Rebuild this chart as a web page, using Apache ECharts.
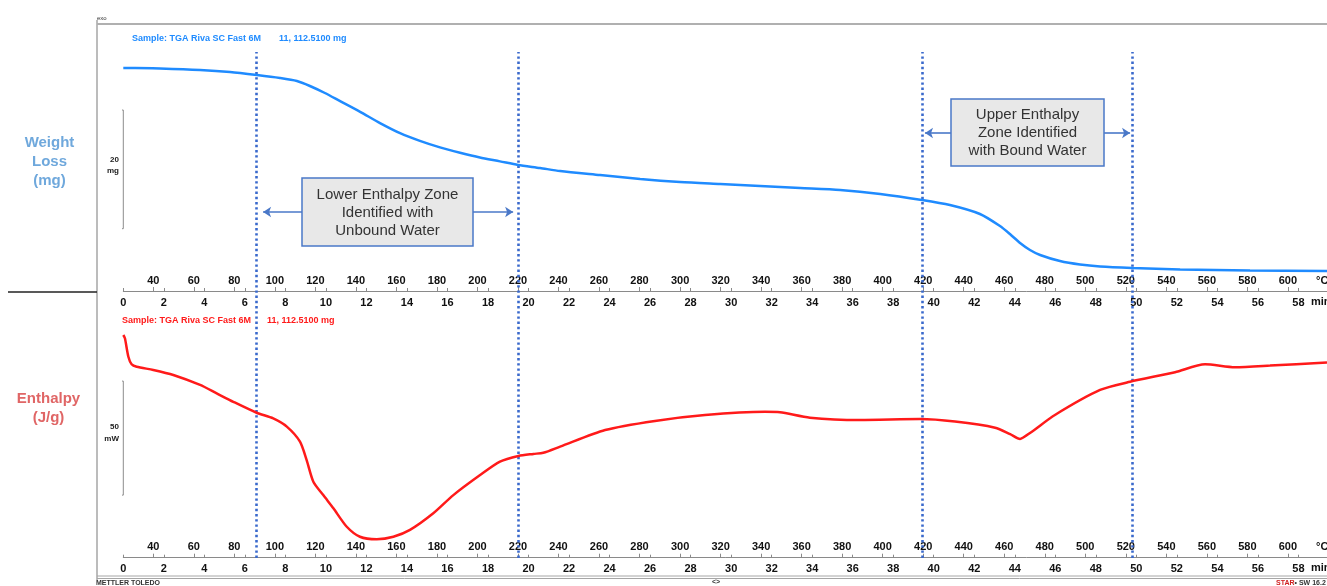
<!DOCTYPE html>
<html><head><meta charset="utf-8">
<script src="https://cdn.jsdelivr.net/npm/echarts@6/dist/echarts.min.js"></script>
<style>html,body{margin:0;padding:0;background:#fff}#c{width:1327px;height:586px}</style>
</head><body><div id="c"></div>
<script>
// ---- data ----
const minuteTicks = [0,2,4,6,8,10,12,14,16,18,20,22,24,26,28,30,32,34,36,38,40,42,44,46,48,50,52,54,56,58];
const tempTicks = [40,60,80,100,120,140,160,180,200,220,240,260,280,300,320,340,360,380,400,420,440,460,480,500,520,540,560,580,600];
// TGA (weight, mg) vs time (min)
const tgaTime = [0,0.58,1.81,3.79,5.27,6.60,7.73,8.57,9.21,9.95,10.70,11.69,12.67,13.66,14.64,15.63,16.62,17.60,18.59,19.48,20.57,21.56,23.53,25.51,27.48,29.46,31.43,33.41,35.38,37.36,39.42,40.80,42.28,43.27,43.76,44.26,44.75,45.25,46.23,47.22,48.21,49.79,52.16,55.61,59.41];
const tgaMass = [112.58,112.58,112.50,112.25,111.91,111.40,110.90,110.39,109.55,108.37,107.00,105.20,103.30,101.60,100.30,99.20,98.30,97.50,96.85,96.24,95.73,95.22,94.55,93.88,93.37,93.03,92.70,92.36,92.02,91.35,90.34,89.49,87.98,85.95,84.60,83.09,81.91,81.07,80.05,79.46,79.13,78.88,78.62,78.45,78.37];
// DSC (heat flow, mW, arbitrary offset) vs time (min)
const dscTime = [0,0.08,0.25,0.41,0.66,1.48,2.47,3.79,4.61,5.43,6.58,7.40,8.07,8.72,9.05,9.38,9.87,10.37,11.03,11.68,12.51,13.33,14.15,15.30,16.29,17.61,18.59,19.50,20.24,20.73,21.56,23.78,26.24,28.71,31.67,32.41,33.89,36.36,39.32,41.05,43.03,43.77,44.26,44.75,45.98,48.21,49.69,51.91,53.39,54.87,56.60,59.41];
const dscFlow = [97.85,96.4,88.3,85.0,83.9,82.5,80.3,75.9,72.2,68.5,63.7,61.2,57.6,51.0,42.9,33.4,27.5,21.7,13.6,9.2,8.1,9.2,12.2,19.5,27.5,36.3,42.2,44.7,45.6,46.1,48.8,56.1,60.1,62.7,64.1,63.9,61.5,60.5,60.9,59.8,57.1,54.3,52.2,54.8,62.7,73.7,77.3,81.5,85.0,83.7,84.4,85.8];
// zone boundaries (min)
const zoneBoundaries = [6.58, 19.47, 39.44, 49.80];
// arrows [fromTime, toTime, mass level]
const zoneArrows = [[8.82,6.90,88.31],[17.26,19.24,88.31],[40.85,39.57,101.63],[48.41,49.69,101.63]];
// scale bars
const massBar = [105.5, 85.5];   // 20 mg
const flowBar = [77.6, 27.5];    // 50 mW

const tMax = 59.41, tempMin = 25.2, tempMax = 619.3;
const FONT = '"Liberation Sans", Arial, sans-serif';
const axisLblStyle = {fontFamily: FONT, fontWeight: 'bold', fontSize: 11, color: '#111'};

function minuteAxis(grid) {
  return {
    gridIndex: grid, type: 'value', min: 0, max: tMax, position: 'bottom',
    axisLine: {show: true, onZero: false, lineStyle: {color: '#8a8a8a', width: 1}},
    axisTick: {show: true, inside: true, length: 3, customValues: minuteTicks, lineStyle: {color: '#8a8a8a'}},
    axisLabel: Object.assign({customValues: minuteTicks, margin: 6}, axisLblStyle),
    splitLine: {show: false}
  };
}
function tempAxis(grid) {
  return {
    gridIndex: grid, type: 'value', min: tempMin, max: tempMax, position: 'bottom',
    axisLine: {show: false, onZero: false},
    axisTick: {show: true, inside: true, length: 4, customValues: tempTicks, lineStyle: {color: '#8a8a8a'}},
    axisLabel: Object.assign({customValues: tempTicks, inside: true, margin: 5}, axisLblStyle),
    splitLine: {show: false}
  };
}

const chart = echarts.init(document.getElementById('c'), null, {renderer: 'canvas'});
const blue = '#1f8bff', red = '#ff1a1a', zoneBlue = '#3a69cc', boxBlue = '#4a78c8';

const option = {
  animation: false,
  backgroundColor: '#fff',
  grid: [
    {left: 123.3, right: 0, top: 24, height: 267, outerBoundsMode: 'none'},
    {left: 123.3, right: 0, top: 321, height: 236.7, outerBoundsMode: 'none'},
    {left: 123.3, right: 0, top: 52, height: 506, outerBoundsMode: 'none'}
  ],
  xAxis: [
    minuteAxis(0), tempAxis(0), minuteAxis(1), tempAxis(1),
    {gridIndex: 2, type: 'value', min: 0, max: tMax, show: false}
  ],
  yAxis: [
    {gridIndex: 0, type: 'value', min: 75, max: 120, show: false},
    {gridIndex: 1, type: 'value', min: 0, max: 104, show: false},
    {gridIndex: 2, type: 'value', min: 0, max: 1, show: false}
  ],
  series: [
    {type: 'line', xAxisIndex: 0, yAxisIndex: 0, data: tgaTime.map((t, i) => [t, tgaMass[i]]),
     showSymbol: false, smooth: 0.25, lineStyle: {color: blue, width: 2.5}, z: 5, silent: true},
    {type: 'line', xAxisIndex: 0, yAxisIndex: 0, clip: false, showSymbol: false, silent: true,
     data: [[-0.2, massBar[0]], [0, massBar[0]], [0, massBar[1]], [-0.2, massBar[1]]],
     lineStyle: {color: '#8c8c8c', width: 1}},
    {type: 'line', xAxisIndex: 0, yAxisIndex: 0, data: [], silent: true,
     markLine: {silent: true, symbol: ['none', 'arrow'], symbolSize: 8, label: {show: false},
       lineStyle: {color: boxBlue, width: 1.6, type: 'solid'},
       data: zoneArrows.map(a => [{coord: [a[0], a[2]]}, {coord: [a[1], a[2]]}])}},
    {type: 'line', xAxisIndex: 2, yAxisIndex: 1, data: dscTime.map((t, i) => [t, dscFlow[i]]),
     showSymbol: false, smooth: 0.25, lineStyle: {color: red, width: 2.5}, z: 5, silent: true},
    {type: 'line', xAxisIndex: 2, yAxisIndex: 1, clip: false, showSymbol: false, silent: true,
     data: [[-0.2, flowBar[0]], [0, flowBar[0]], [0, flowBar[1]], [-0.2, flowBar[1]]],
     lineStyle: {color: '#8c8c8c', width: 1}},
    {type: 'line', xAxisIndex: 4, yAxisIndex: 2, data: [], silent: true,
     markLine: {silent: true, symbol: ['none', 'none'], label: {show: false},
       lineStyle: {color: zoneBlue, width: 2.6, type: [2.4, 2.8]},
       data: zoneBoundaries.map(v => ({xAxis: v}))}, z: 6}
  ],
  graphic: [
    // frame
    {type: 'line', shape: {x1: 97, y1: 20, x2: 97, y2: 580}, style: {stroke: '#a6a6a6', lineWidth: 1.5}, silent: true},
    {type: 'line', shape: {x1: 97, y1: 24, x2: 1327, y2: 24}, style: {stroke: '#b0b0b0', lineWidth: 2}, silent: true},
    {type: 'line', shape: {x1: 97, y1: 576, x2: 1327, y2: 576}, style: {stroke: '#a6a6a6', lineWidth: 1}, silent: true},
    {type: 'line', shape: {x1: 97, y1: 578.5, x2: 1327, y2: 578.5}, style: {stroke: '#a6a6a6', lineWidth: 1}, silent: true},
    {type: 'line', shape: {x1: 8, y1: 292, x2: 97, y2: 292}, style: {stroke: '#222', lineWidth: 1.6}, silent: true},
    {type: 'text', x: 97, y: 18, style: {text: 'exo', font: '6px ' + FONT, fill: '#333', verticalAlign: 'middle'}},
    // left titles
    {type: 'text', x: 49.5, y: 162, style: {text: 'Weight\nLoss\n(mg)', font: 'bold 15px ' + FONT, fill: '#6fa8dc', align: 'center', verticalAlign: 'middle', lineHeight: 19}},
    {type: 'text', x: 48.5, y: 408.5, style: {text: 'Enthalpy\n(J/g)', font: 'bold 15px ' + FONT, fill: '#e06666', align: 'center', verticalAlign: 'middle', lineHeight: 19}},
    // scale bar labels
    {type: 'text', x: 119, y: 160, style: {text: '20', font: 'bold 8px ' + FONT, fill: '#222', align: 'right', verticalAlign: 'middle'}},
    {type: 'text', x: 119, y: 171, style: {text: 'mg', font: 'bold 8px ' + FONT, fill: '#222', align: 'right', verticalAlign: 'middle'}},
    {type: 'text', x: 119, y: 427, style: {text: '50', font: 'bold 8px ' + FONT, fill: '#222', align: 'right', verticalAlign: 'middle'}},
    {type: 'text', x: 119, y: 439, style: {text: 'mW', font: 'bold 8px ' + FONT, fill: '#222', align: 'right', verticalAlign: 'middle'}},
    // sample labels
    {type: 'text', x: 132, y: 39, style: {text: 'Sample: TGA Riva SC Fast 6M', font: 'bold 9px ' + FONT, fill: blue, verticalAlign: 'middle'}},
    {type: 'text', x: 279, y: 39, style: {text: '11, 112.5100 mg', font: 'bold 9px ' + FONT, fill: blue, verticalAlign: 'middle'}},
    {type: 'text', x: 122, y: 321, style: {text: 'Sample: TGA Riva SC Fast 6M', font: 'bold 9px ' + FONT, fill: red, verticalAlign: 'middle'}},
    {type: 'text', x: 267, y: 321, style: {text: '11, 112.5100 mg', font: 'bold 9px ' + FONT, fill: red, verticalAlign: 'middle'}},
    // axis units
    {type: 'text', x: 1316, y: 281, style: {text: '°C', font: 'bold 11px ' + FONT, fill: '#111', verticalAlign: 'middle'}},
    {type: 'text', x: 1311, y: 302, style: {text: 'min', font: 'bold 11px ' + FONT, fill: '#111', verticalAlign: 'middle'}},
    {type: 'text', x: 1316, y: 547, style: {text: '°C', font: 'bold 11px ' + FONT, fill: '#111', verticalAlign: 'middle'}},
    {type: 'text', x: 1311, y: 568, style: {text: 'min', font: 'bold 11px ' + FONT, fill: '#111', verticalAlign: 'middle'}},
    // annotation boxes
    {type: 'rect', shape: {x: 302, y: 178, width: 171, height: 68}, style: {fill: '#e8e8e8', stroke: boxBlue, lineWidth: 1.5}, z: 10},
    {type: 'text', x: 387.5, y: 213, z: 11, style: {text: 'Lower Enthalpy Zone\nIdentified with\nUnbound Water', font: '15px ' + FONT, fill: '#333', align: 'center', verticalAlign: 'middle', lineHeight: 18}},
    {type: 'rect', shape: {x: 951, y: 99, width: 153, height: 67}, style: {fill: '#e8e8e8', stroke: boxBlue, lineWidth: 1.5}, z: 10},
    {type: 'text', x: 1027.5, y: 133, z: 11, style: {text: 'Upper Enthalpy\nZone Identified\nwith Bound Water', font: '15px ' + FONT, fill: '#333', align: 'center', verticalAlign: 'middle', lineHeight: 18}},
    // footer
    {type: 'text', x: 96, y: 583, style: {text: 'METTLER TOLEDO', font: 'bold 7px ' + FONT, fill: '#333', verticalAlign: 'middle'}},
    {type: 'text', x: 712, y: 582, style: {text: '<>', font: 'bold 7px ' + FONT, fill: '#333', verticalAlign: 'middle'}},
    {type: 'text', x: 1276, y: 583, style: {text: '{r|STAR}{k|• SW 16.2}', font: 'bold 7px ' + FONT, verticalAlign: 'middle',
      rich: {r: {fill: '#d02020', font: 'bold 7px ' + FONT}, k: {fill: '#333', font: 'bold 7px ' + FONT}}}}
  ]
};
chart.setOption(option);
</script>
</body></html>
